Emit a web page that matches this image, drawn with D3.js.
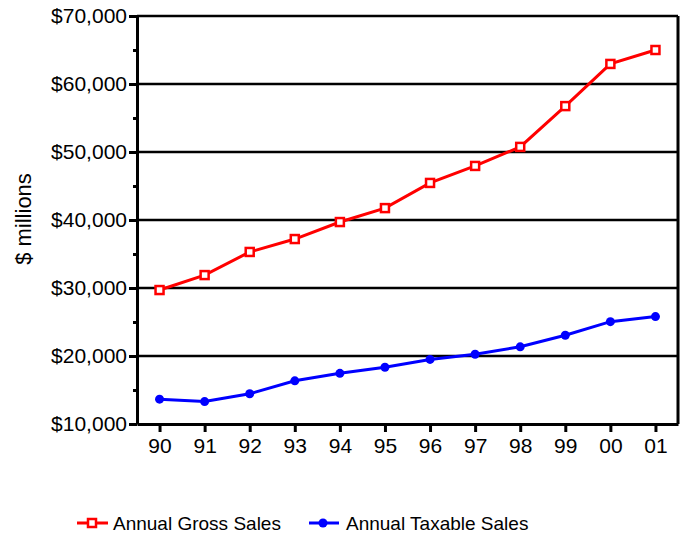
<!DOCTYPE html>
<html>
<head>
    <style>
        body { margin: 0; background: #fff; }
        svg { font-family: "Liberation Sans", Arial, sans-serif; }
        .axis path, .axis line { stroke: #000; stroke-width: 3; }
        .axis text { font-size: 21px; fill: #000; }
        .grid line { stroke: #000; stroke-width: 2.5; }
        .line { fill: none; stroke-width: 3; }
    </style>
    <script src="https://d3js.org/d3.v7.min.js"></script>
</head>
<body>

<svg width="686" height="535"></svg>

<script>

    var years = ["90", "91", "92", "93", "94", "95", "96", "97", "98", "99", "00", "01"];
    var grossSales = [29700, 31900, 35300, 37200, 39700, 41750, 45450, 47950, 50750, 56750, 62950, 65000];
    var taxableSales = [13650, 13300, 14450, 16350, 17450, 18350, 19500, 20250, 21350, 23050, 25050, 25800];
    var yTicks = [10000, 20000, 30000, 40000, 50000, 60000, 70000];
    var yMinorTicks = [15000, 25000, 35000, 45000, 55000, 65000];

    var margin = { top: 16, right: 8, bottom: 111, left: 137 };
    var width = 686 - margin.left - margin.right;
    var height = 535 - margin.top - margin.bottom;

    var svg = d3.select("svg")
      .append("g")
        .attr("transform", "translate(" + margin.left + "," + margin.top + ")");

    var xScale = d3.scalePoint()
        .domain(years)
        .range([0, width])
        .padding(0.5);

    var yScale = d3.scaleLinear()
        .domain([10000, 70000])
        .range([height, 0]);

    // horizontal grid lines
    svg.append("g")
        .attr("class", "grid")
      .selectAll("line")
        .data(yTicks.slice(1))
        .enter().append("line")
        .attr("x1", 0)
        .attr("x2", width)
        .attr("y1", function(d) { return yScale(d); })
        .attr("y2", function(d) { return yScale(d); });

    // right border
    svg.append("line")
        .attr("x1", width).attr("x2", width)
        .attr("y1", 0).attr("y2", height)
        .attr("stroke", "#000")
        .attr("stroke-width", 3);

    var xAxis = d3.axisBottom(xScale).tickSize(8).tickSizeOuter(0).tickPadding(6);
    var yAxis = d3.axisLeft(yScale)
        .tickValues(yTicks)
        .tickSize(8)
        .tickSizeOuter(0)
        .tickPadding(2)
        .tickFormat(function(d) { return "$" + d3.format(",")(d); });
    var yMinor = d3.axisLeft(yScale).tickValues(yMinorTicks).tickSize(4).tickFormat("");

    svg.append("g")
        .attr("class", "axis")
        .call(yMinor)
        .select(".domain").remove();

    svg.append("g")
        .attr("class", "axis y-axis")
        .call(yAxis);

    svg.append("g")
        .attr("class", "axis x-axis")
        .attr("transform", "translate(0," + height + ")")
        .call(xAxis);

    var line = d3.line()
        .x(function(d, i) { return xScale(years[i]); })
        .y(function(d) { return yScale(d); });

    // gross sales
    svg.append("path")
        .datum(grossSales)
        .attr("class", "line")
        .attr("stroke", "#ff0000")
        .attr("d", line);

    svg.append("g")
      .selectAll("rect")
        .data(grossSales)
        .enter().append("rect")
        .attr("x", function(d, i) { return xScale(years[i]) - 4; })
        .attr("y", function(d) { return yScale(d) - 4; })
        .attr("width", 8)
        .attr("height", 8)
        .attr("fill", "#fff")
        .attr("stroke", "#ff0000")
        .attr("stroke-width", 2.5);

    // taxable sales
    svg.append("path")
        .datum(taxableSales)
        .attr("class", "line")
        .attr("stroke", "#0000ff")
        .attr("d", line);

    svg.append("g")
      .selectAll("circle")
        .data(taxableSales)
        .enter().append("circle")
        .attr("cx", function(d, i) { return xScale(years[i]); })
        .attr("cy", function(d) { return yScale(d); })
        .attr("r", 4.5)
        .attr("fill", "#0000ff");

    // y axis title
    d3.select("svg").append("text")
        .attr("transform", "translate(31,219) rotate(-90)")
        .attr("text-anchor", "middle")
        .attr("font-size", 22)
        .text("$ millions");

    // legend
    var legend = d3.select("svg").append("g")
        .attr("transform", "translate(0,523)");

    legend.append("line")
        .attr("x1", 77).attr("x2", 108)
        .attr("stroke", "#ff0000").attr("stroke-width", 3);
    legend.append("rect")
        .attr("x", 88).attr("y", -4).attr("width", 8).attr("height", 8)
        .attr("fill", "#fff").attr("stroke", "#ff0000").attr("stroke-width", 2.5);
    legend.append("text")
        .attr("x", 113).attr("y", 7)
        .attr("font-size", 19)
        .text("Annual Gross Sales");

    legend.append("line")
        .attr("x1", 309).attr("x2", 339)
        .attr("stroke", "#0000ff").attr("stroke-width", 3);
    legend.append("circle")
        .attr("cx", 323).attr("cy", 0).attr("r", 4.5)
        .attr("fill", "#0000ff");
    legend.append("text")
        .attr("x", 346).attr("y", 7)
        .attr("font-size", 19)
        .text("Annual Taxable Sales");

</script>
</body>
</html>
